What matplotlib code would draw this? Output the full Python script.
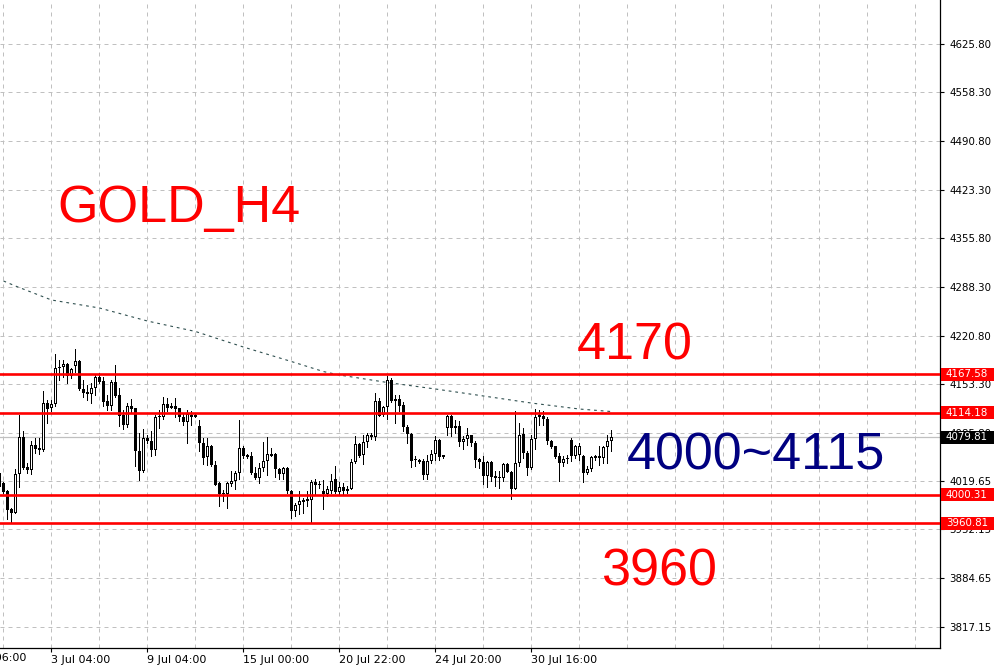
import numpy as np
import matplotlib
matplotlib.use("Agg")
import matplotlib.pyplot as plt
from matplotlib.patches import Rectangle
from matplotlib.transforms import blended_transform_factory

# ---------------- data ----------------
opens = [4028.2, 4015.8, 4004.7, 3979.9, 3975.3, 4029.1, 4080.2, 4038.3, 4034.2, 4069.1,
         4065.0, 4062.7, 4127.1, 4120.2, 4126.2, 4175.4, 4176.8, 4181.4, 4164.8, 4178.6,
         4185.5, 4147.3, 4142.7, 4140.0, 4148.3, 4163.0, 4157.5, 4130.3, 4123.9, 4156.1,
         4138.6, 4111.0, 4097.2, 4123.4, 4120.2, 4061.3, 4032.8, 4078.8, 4074.2, 4062.7,
         4107.8, 4107.5, 4126.2, 4123.4, 4123.4, 4120.2, 4107.3, 4100.4, 4111.0, 4107.8,
         4095.8, 4071.9, 4052.1, 4068.2, 4042.0, 4015.8, 4002.9, 4000.6, 4014.4, 4019.0,
         4030.5, 4065.0, 4055.8, 4053.5, 4030.5, 4023.6, 4037.4, 4046.6, 4056.7, 4056.7,
         4036.0, 4028.2, 4037.4, 4005.2, 3977.6, 3985.4, 3992.3, 3993.7, 3992.8, 4018.1,
         4014.4, 4005.2, 4000.6, 4005.2, 4021.3, 4003.8, 4011.2, 4005.2, 4008.4, 4045.7,
         4070.5, 4054.9, 4073.3, 4083.4, 4079.7, 4130.3, 4110.1, 4121.6, 4159.3, 4132.6,
         4132.6, 4124.8, 4094.0, 4084.3, 4048.9, 4048.9, 4046.6, 4027.3, 4046.6, 4056.7,
         4076.5, 4054.9, 4092.6, 4109.6, 4092.6, 4095.8, 4073.3, 4077.4, 4083.4, 4071.9,
         4049.8, 4045.7, 4025.9, 4045.7, 4025.9, 4023.1, 4023.1, 4042.9, 4031.9, 4008.4,
         4044.3, 4084.3, 4058.1, 4036.5, 4077.9, 4107.3, 4109.6, 4105.5, 4075.1, 4067.3,
         4053.5, 4044.3, 4051.2, 4076.5, 4054.4, 4055.8, 4054.4, 4030.5, 4035.1, 4053.5,
         4053.5, 4051.2, 4065.9, 4075.1]
highs = [4030.5, 4017.6, 4006.6, 3981.7, 4035.1, 4111.0, 4088.0, 4044.3, 4074.2, 4078.8,
         4078.8, 4144.1, 4131.7, 4131.7, 4195.2, 4186.9, 4186.9, 4182.3, 4175.4, 4203.0,
         4186.9, 4159.3, 4152.4, 4154.7, 4166.2, 4168.5, 4163.9, 4138.6, 4159.3, 4180.0,
         4147.8, 4117.9, 4127.1, 4132.6, 4121.1, 4085.7, 4091.2, 4083.4, 4088.0, 4111.0,
         4117.9, 4136.3, 4134.0, 4127.1, 4134.0, 4120.4, 4112.4, 4117.0, 4115.6, 4112.4,
         4103.2, 4078.8, 4078.8, 4069.6, 4046.6, 4017.6, 4006.6, 4017.6, 4032.8, 4033.7,
         4103.2, 4067.3, 4056.0, 4059.0, 4038.3, 4044.3, 4072.8, 4080.2, 4065.0, 4058.1,
         4037.4, 4038.3, 4038.3, 4006.6, 3989.1, 4005.2, 3996.0, 4005.2, 4019.9, 4021.3,
         4019.0, 4019.9, 4012.1, 4028.2, 4040.6, 4017.6, 4015.8, 4012.1, 4050.3, 4082.0,
         4071.9, 4083.4, 4085.7, 4085.7, 4140.9, 4134.0, 4123.4, 4164.8, 4161.6, 4138.6,
         4138.6, 4129.4, 4097.2, 4085.7, 4053.5, 4049.8, 4049.8, 4055.8, 4062.7, 4082.0,
         4077.9, 4055.8, 4111.0, 4111.0, 4104.1, 4101.8, 4081.1, 4092.6, 4083.6, 4074.2,
         4051.2, 4054.4, 4046.6, 4046.6, 4032.8, 4032.8, 4044.3, 4044.3, 4032.8, 4116.5,
         4099.5, 4092.6, 4060.4, 4083.4, 4118.8, 4117.9, 4116.5, 4107.3, 4076.5, 4067.5,
         4058.1, 4053.5, 4055.8, 4078.8, 4069.6, 4071.9, 4055.8, 4040.6, 4053.5, 4055.8,
         4068.2, 4068.2, 4083.4, 4090.3]
lows = [4012.1, 4002.0, 3966.1, 3962.4, 3974.4, 4011.2, 4035.1, 4030.5, 4028.2, 4058.1,
        4056.7, 4060.4, 4099.5, 4115.6, 4123.4, 4159.3, 4163.9, 4154.7, 4161.6, 4170.8,
        4145.5, 4135.4, 4131.7, 4128.0, 4138.6, 4154.7, 4123.4, 4117.9, 4117.9, 4136.3,
        4095.8, 4091.2, 4094.0, 4114.7, 4039.7, 4020.4, 4031.4, 4071.9, 4053.5, 4054.9,
        4092.6, 4105.0, 4115.6, 4120.2, 4107.8, 4101.8, 4097.2, 4071.9, 4097.2, 4107.5,
        4060.4, 4043.4, 4042.0, 4040.6, 4013.0, 3984.5, 3991.4, 3982.2, 4012.1, 4007.5,
        4022.2, 4051.2, 4051.2, 4028.2, 4021.3, 4016.7, 4032.8, 4026.8, 4053.5, 4025.0,
        4022.2, 4021.3, 4002.9, 3968.4, 3970.7, 3973.0, 3975.3, 3984.5, 3962.4, 4000.6,
        4009.8, 3979.9, 3998.3, 4002.0, 4002.9, 4000.6, 4000.6, 4002.0, 4007.5, 4044.3,
        4052.6, 4043.4, 4066.4, 4077.9, 4075.6, 4108.7, 4109.6, 4105.5, 4129.4, 4099.5,
        4115.6, 4088.9, 4071.9, 4038.3, 4039.7, 4044.3, 4021.3, 4021.3, 4044.3, 4048.9,
        4048.9, 4051.2, 4082.5, 4081.1, 4085.7, 4068.2, 4063.6, 4069.6, 4068.2, 4038.8,
        4037.4, 4014.4, 4011.2, 4019.0, 4012.1, 4009.8, 4019.0, 4031.4, 3994.6, 4007.5,
        4039.7, 4051.2, 4026.8, 4035.1, 4063.6, 4097.2, 4097.2, 4071.0, 4065.0, 4051.2,
        4019.0, 4040.6, 4044.3, 4046.6, 4051.2, 4048.0, 4017.6, 4028.2, 4033.7, 4048.0,
        4042.0, 4044.3, 4044.3, 4060.4]
closes = [4015.8, 4003.8, 3979.0, 3975.3, 4029.1, 4080.2, 4037.4, 4034.2, 4069.1, 4063.6,
          4062.7, 4127.1, 4119.3, 4126.2, 4175.4, 4176.8, 4181.4, 4164.8, 4174.0, 4185.5,
          4147.3, 4140.9, 4139.5, 4148.3, 4163.0, 4157.0, 4129.4, 4123.9, 4156.1, 4137.7,
          4109.6, 4097.2, 4123.4, 4119.3, 4060.4, 4032.8, 4078.8, 4074.2, 4062.7, 4107.8,
          4107.5, 4126.2, 4120.2, 4121.1, 4118.8, 4107.3, 4100.4, 4112.4, 4107.8, 4111.0,
          4071.9, 4051.2, 4068.2, 4041.1, 4013.5, 4000.6, 4000.6, 4015.8, 4019.0, 4030.5,
          4065.0, 4053.5, 4052.6, 4030.5, 4023.6, 4037.4, 4046.6, 4056.7, 4054.4, 4035.1,
          4028.2, 4037.4, 4005.2, 3977.6, 3985.4, 3991.4, 3990.0, 3991.4, 4018.1, 4013.5,
          4013.0, 4000.6, 4007.5, 4019.0, 4003.8, 4011.2, 4005.2, 4008.4, 4045.7, 4070.5,
          4054.4, 4073.3, 4082.5, 4079.7, 4130.3, 4109.6, 4121.6, 4159.3, 4130.3, 4130.8,
          4123.9, 4093.5, 4084.3, 4046.6, 4048.0, 4045.2, 4027.3, 4046.6, 4056.7, 4076.5,
          4052.6, 4052.6, 4109.6, 4092.6, 4095.8, 4072.8, 4077.9, 4083.4, 4071.9, 4048.0,
          4045.7, 4025.9, 4045.7, 4025.0, 4023.6, 4024.5, 4042.9, 4031.9, 4008.4, 4044.3,
          4083.4, 4058.1, 4037.4, 4077.9, 4107.3, 4111.0, 4105.0, 4074.2, 4066.4, 4052.1,
          4044.3, 4050.3, 4050.3, 4054.4, 4068.2, 4067.3, 4030.5, 4035.1, 4052.6, 4051.2,
          4051.2, 4065.9, 4075.1, 4079.81]
first_bar = -1   # index of first (partially visible) bar

ma_bars = [0, 3, 12, 24, 36, 48, 60, 72, 80, 84, 96, 108, 120, 132, 144, 152]
ma_values = [4296.7, 4289.7, 4270.3, 4259.2, 4241.1, 4226.6, 4205.0, 4184.9, 4171.0,
             4166.2, 4155.8, 4146.8, 4137.1, 4127.3, 4119.0, 4115.5]

level_prices = [4167.58, 4114.18, 4000.31, 3960.81]
current_price = 4079.81

ytick_values = [4625.80, 4558.30, 4490.80, 4423.30, 4355.80, 4288.30, 4220.80,
                4153.30, 4085.80, 4019.65, 3952.15, 3884.65, 3817.15]
xtick_bars = [12, 36, 60, 84, 108, 132]
xtick_labels = ["3 Jul 04:00", "9 Jul 04:00", "15 Jul 00:00", "20 Jul 22:00",
                "24 Jul 20:00", "30 Jul 16:00"]
xtick_prev_bar = -12
xtick_prev_label = "27 Jun 06:00"
grid_bar_step = 12

title_text = "GOLD_H4"
note_high = "4170"
note_low = "3960"
note_range = "4000~4115"

# ---------------- figure ----------------
W, H = 995, 666
AX_W, AX_H = 940, 648
fig = plt.figure(figsize=(W / 100, H / 100), dpi=100)
fig.patch.set_facecolor("white")
ax = fig.add_axes([0, (H - AX_H) / H, AX_W / W, AX_H / H])
ax.set_facecolor("white")

x0 = -0.875
ax.set_xlim(x0, x0 + AX_W / 4)
ylo, yhi = 3787.4, 4686.6
ax.set_ylim(ylo, yhi)
px = (yhi - ylo) / AX_H   # one pixel in price units

o = np.array(opens); h = np.array(highs); l = np.array(lows); c = np.array(closes)
x = np.arange(first_bar, first_bar + len(o))

# grid
grid_kw = dict(color="#C0C0C0", lw=0.72, dashes=(4, 4), zorder=0)
for gx in np.arange(0, 235, grid_bar_step):
    ax.axvline(gx, **grid_kw)
for gy in ytick_values:
    ax.axhline(gy, **grid_kw)

# current price line
ax.axhline(current_price, color="#C0C0C0", lw=0.9, zorder=0.5)

# moving average (dotted)
ax.plot(ma_bars, ma_values, color="#2F4F4F", lw=0.8, dashes=(2.5, 3.5), zorder=1)

# candles
up = c >= o
ax.vlines(x, l, h, color="black", lw=0.72, zorder=2, antialiased=False)
bottoms = np.minimum(o, c)
heights = np.maximum(np.abs(c - o), px)
ax.bar(x, heights, bottom=bottoms, width=0.75, color="black", linewidth=0,
       zorder=3, antialiased=False)
inner = up & (heights > 2.5 * px)
ax.bar(x[inner], heights[inner] - 2 * px, bottom=bottoms[inner] + px, width=0.25,
       color="white", linewidth=0, zorder=3.5, antialiased=False)

# horizontal level lines
for p in level_prices:
    ax.axhline(p, color="#FF0000", lw=1.9, zorder=4)

# spines
for s in ("top", "left"):
    ax.spines[s].set_visible(False)
for s in ("right", "bottom"):
    ax.spines[s].set_color("black")
    ax.spines[s].set_linewidth(0.9)

# ticks
ax.yaxis.tick_right()
ax.set_yticks(ytick_values)
ax.set_yticklabels([f"{v:.2f}" for v in ytick_values])
ax.tick_params(axis="y", direction="out", length=3, width=0.8, pad=4,
               labelsize=7.4, colors="black")
ax.set_xticks(xtick_bars)
ax.set_xticklabels(xtick_labels)
ax.tick_params(axis="x", direction="out", length=3, width=0.8, pad=2,
               labelsize=8, colors="black")
for lab in ax.get_xticklabels():
    lab.set_horizontalalignment("left")

# partially visible label on the left
ax.text(xtick_prev_bar, -0.0075, xtick_prev_label,
        transform=blended_transform_factory(ax.transData, ax.transAxes),
        ha="left", va="top", fontsize=8, color="black", clip_on=False)

# price boxes on the right axis
bt = blended_transform_factory(ax.transAxes, ax.transData)
box_w = 55 / AX_W
box_h = 13 * px
for p, col in [(lv, "#FF0000") for lv in level_prices] + [(current_price, "black")]:
    ax.add_patch(Rectangle((1.0008, p - box_h / 2), box_w, box_h, transform=bt,
                           facecolor=col, edgecolor="none", clip_on=False, zorder=6))
    ax.text(1.0 + 6 / AX_W, p, f"{p:.2f}", transform=bt, ha="left", va="center",
            fontsize=7.4, color="white", clip_on=False, zorder=7)

# big annotations
big = dict(fontsize=37.5, family="Liberation Sans", va="baseline", ha="left")
fig.text(57 / W, 1 - 222 / H, title_text, color="#FF0000", **big)
fig.text(577 / W, 1 - 360 / H, note_high, color="#FF0000", **big)
fig.text(601 / W, 1 - 586 / H, note_low, color="#FF0000", **big)
fig.text(627 / W, 1 - 470 / H, note_range, color="#000080", **big)

fig.savefig("out.png", dpi=100, facecolor="white")
